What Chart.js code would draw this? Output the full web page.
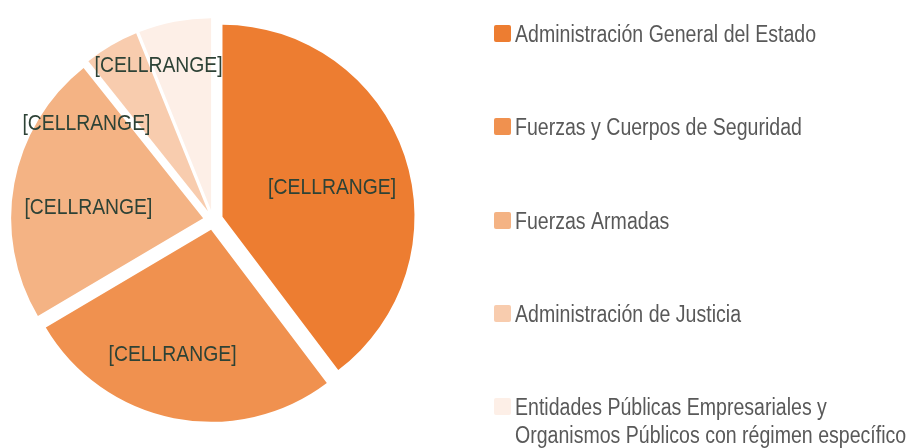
<!DOCTYPE html>
<html>
<head>
<meta charset="utf-8">
<script src="https://cdn.jsdelivr.net/npm/chart.js@4"></script>
<style>
  html, body { margin: 0; padding: 0; background: #fff; }
</style>
</head>
<body>
<canvas id="chart" width="910" height="448"></canvas>
<script>
document.addEventListener('DOMContentLoaded', () => {
    // Data (share of each group, %)
    const categories = [
        'Administración General del Estado',
        'Fuerzas y Cuerpos de Seguridad',
        'Fuerzas Armadas',
        'Administración de Justicia',
        ['Entidades Públicas Empresariales y', 'Organismos Públicos con régimen específico']
    ];
    const values = [39.7, 26.8, 22.8, 4.6, 6.1];
    const dataLabels = ['[CELLRANGE]', '[CELLRANGE]', '[CELLRANGE]', '[CELLRANGE]', '[CELLRANGE]'];

    const colors = ['#ED7D31', '#F0914F', '#F4B384', '#F8CCAE', '#FDEFE7'];
    const explode = 10; // px each slice is pulled out
    // label placement: fraction of radius and angle shift (deg) from the slice middle
    const labelRadius = [0.59, 0.68, 0.6, 0.78, 0.8];
    const labelShift = [4, 6, -5.5, -24, -9];
    const legendBaselines = [42, 135, 229, 322, 415];

    const font = '"Liberation Sans", Arial, sans-serif';

    // narrow text: regular sans squeezed horizontally
    const narrowText = (ctx, text, x, y, scaleX) => {
        ctx.save();
        ctx.translate(x, y);
        ctx.scale(scaleX, 1);
        ctx.fillText(text, 0, 0);
        ctx.restore();
    };

    // Exploded slices: draw each arc element shifted along its middle angle
    const explodeSlices = {
        id: 'explodeSlices',
        beforeDatasetDraw(chart, args) {
            const ctx = chart.ctx;
            args.meta.data.forEach(arc => {
                const mid = (arc.startAngle + arc.endAngle) / 2;
                ctx.save();
                ctx.translate(Math.cos(mid) * explode, Math.sin(mid) * explode);
                arc.draw(ctx);
                ctx.restore();
            });
            return false;
        }
    };

    // Labels on the slices
    const sliceLabels = {
        id: 'sliceLabels',
        afterDatasetsDraw(chart) {
            const ctx = chart.ctx;
            const arcs = chart.getDatasetMeta(0).data;
            ctx.save();
            ctx.font = '22px ' + font;
            ctx.fillStyle = '#2D4236';
            ctx.textAlign = 'center';
            ctx.textBaseline = 'middle';
            arcs.forEach((arc, i) => {
                const mid = (arc.startAngle + arc.endAngle) / 2;
                const cx = arc.x + Math.cos(mid) * explode;
                const cy = arc.y + Math.sin(mid) * explode;
                const a = mid + labelShift[i] * Math.PI / 180;
                const r = arc.outerRadius * labelRadius[i];
                narrowText(ctx, dataLabels[i], cx + Math.cos(a) * r, cy + Math.sin(a) * r, 0.88);
            });
            ctx.restore();
        }
    };

    // Legend on the right, one row per category
    const sideLegend = {
        id: 'sideLegend',
        afterDraw(chart) {
            const ctx = chart.ctx;
            ctx.save();
            ctx.font = '23px ' + font;
            ctx.textAlign = 'left';
            ctx.textBaseline = 'alphabetic';
            categories.forEach((cat, i) => {
                const base = legendBaselines[i];
                ctx.fillStyle = colors[i];
                ctx.beginPath();
                ctx.roundRect(494, base - 17, 17, 17, 2);
                ctx.fill();
                ctx.fillStyle = '#595959';
                const lines = Array.isArray(cat) ? cat : [cat];
                lines.forEach((line, j) => narrowText(ctx, line, 515, base + j * 28, 0.85));
            });
            ctx.restore();
        }
    };

    new Chart(document.getElementById('chart').getContext('2d'), {
        type: 'pie',
        data: {
            labels: categories,
            datasets: [{
                data: values,
                backgroundColor: colors,
                borderWidth: 0
            }]
        },
        options: {
            responsive: false,
            animation: false,
            events: [],
            layout: { padding: { left: 21, right: 505, top: 28, bottom: 36 } },
            plugins: {
                legend: { display: false },
                tooltip: { enabled: false }
            }
        },
        plugins: [explodeSlices, sliceLabels, sideLegend]
    });
});
</script>
</body>
</html>
